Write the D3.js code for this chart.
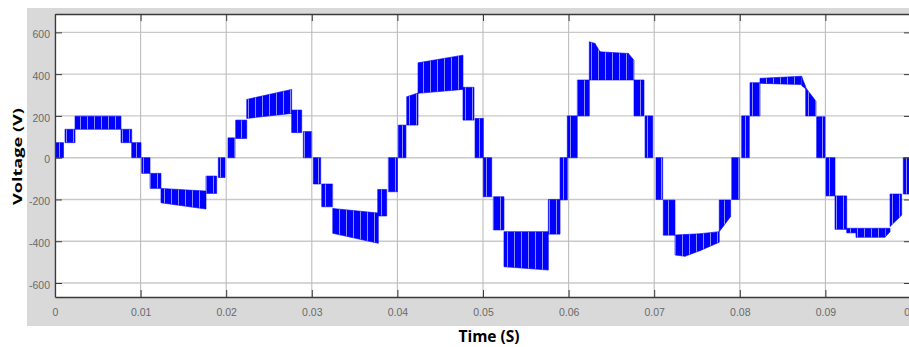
<!DOCTYPE html>
<html><head><meta charset="utf-8">
<script src="https://cdn.jsdelivr.net/npm/d3@7"></script>
<style>body{margin:0;background:#fff;overflow:hidden}</style>
</head><body>
<svg id="c" width="909" height="347"></svg>
<script>
// ---- data ----
const xTicks = [0, 0.01, 0.02, 0.03, 0.04, 0.05, 0.06, 0.07, 0.08, 0.09, 0.1];
const xTickLabels = ["0", "0.01", "0.02", "0.03", "0.04", "0.05", "0.06", "0.07", "0.08", "0.09", "0.1"];
const yTicks = [-600, -400, -200, 0, 200, 400, 600];
const yTickLabels = ["-600", "-400", "-200", "0", "200", "400", "600"];
const xLabel = "Time (S)";
const yLabel = "Voltage (V)";

// PWM bands of the multilevel output: start/end time (s), lower level (V) and upper level (V) at start/end
const bandStart = [0.00010,0.00117,0.00234,0.00771,0.00896,0.01013,0.01110,0.01238,0.01764,0.01908,
  0.02021,0.02111,0.02240,0.02765,0.02901,0.03018,0.03116,0.03244,0.03770,0.03894,
  0.04011,0.04109,0.04241,0.04766,0.04907,0.05004,0.05120,0.05245,0.05763,0.05900,
  0.05985,0.06102,0.06242,0.06308,0.06367,0.06698,0.06764,0.06893,0.07021,0.07106,
  0.07243,0.07360,0.07535,0.07760,0.07905,0.08022,0.08119,0.08236,0.08723,0.08770,
  0.08898,0.09007,0.09112,0.09249,0.09357,0.09696,0.09755,0.09910];
const bandEnd = [0.00100,0.00234,0.00771,0.00896,0.01005,0.01110,0.01238,0.01764,0.01889,0.01986,
  0.02103,0.02240,0.02765,0.02882,0.02999,0.03104,0.03244,0.03777,0.03875,0.04001,
  0.04100,0.04241,0.04766,0.04895,0.05004,0.05102,0.05245,0.05763,0.05900,0.05985,
  0.06102,0.06242,0.06308,0.06367,0.06698,0.06764,0.06881,0.06983,0.07099,0.07243,
  0.07360,0.07535,0.07760,0.07893,0.07994,0.08111,0.08236,0.08723,0.08770,0.08890,
  0.08995,0.09112,0.09249,0.09357,0.09696,0.09755,0.09891,0.10000];
const lowStart = [0,72,136,72,0,-75,-147,-216,-171,-95,
  0,92,188,120,0,-126,-235,-362,-279,-163,
  0,156,308,180,0,-187,-346,-522,-366,-202,
  0,200,372,372,372,372,200,0,-200,-371,
  -466,-472,-445,-354,-200,0,200,356,345,200,
  0,-183,-343,-360,-381,-381,-330,-174];
const lowEnd = [0,72,136,72,0,-75,-147,-246,-171,-95,
  0,92,212,120,0,-126,-235,-410,-279,-163,
  0,156,327,180,0,-187,-346,-538,-366,-202,
  0,200,372,372,372,372,200,0,-200,-371,
  -472,-445,-405,-282,-200,0,200,350,330,200,
  0,-183,-343,-360,-381,-355,-275,-174];
const highStart = [72,136,199,136,72,0,-75,-147,-88,0,
  95,180,279,228,125,0,-126,-243,-152,0,
  156,292,454,337,188,0,-187,-354,-200,0,
  200,372,555,547,507,499,372,200,0,-203,
  -370,-368,-364,-203,0,200,359,380,388,335,
  196,0,-183,-338,-338,-338,-174,0];
const highEnd = [72,136,199,136,72,0,-75,-160,-88,0,
  95,180,327,228,125,0,-126,-265,-152,0,
  156,310,491,337,188,0,-187,-354,-200,0,
  200,372,547,507,499,467,372,200,0,-203,
  -368,-364,-354,-203,0,200,359,390,340,270,
  196,0,-183,-338,-338,-338,-174,0];

// ---- drawing ----
const W = 909, H = 347;
const L = 55, R = 911, T = 14, B = 297;
const svg = d3.select("#c");
const x = d3.scaleLinear().domain([0, 0.1]).range([L, R]);
const y = d3.scaleLinear().domain([-667, 688]).range([B, T]);

// switching texture (style only)
const defs = svg.append("defs");
const pat = defs.append("pattern").attr("id", "pwm").attr("patternUnits", "userSpaceOnUse")
  .attr("width", 7).attr("height", 10);
pat.append("rect").attr("width", 7).attr("height", 10).attr("fill", "#0000ff");
pat.append("rect").attr("x", 3).attr("width", 1).attr("height", 10).attr("fill", "#8c8cff");

svg.append("rect").attr("x", 27).attr("y", 8).attr("width", W - 27).attr("height", 318).attr("fill", "#d9d9d9");
svg.append("rect").attr("x", L).attr("y", T).attr("width", R - L).attr("height", B - T).attr("fill", "#ffffff");

const g = svg.append("g");
// grid
g.selectAll("line.hg").data(yTicks).join("line").attr("class", "hg")
  .attr("x1", L).attr("x2", R).attr("y1", d => y(d)).attr("y2", d => y(d))
  .attr("stroke", "#c9c9c9").attr("stroke-width", 1.4);
g.selectAll("line.vg").data(xTicks).join("line").attr("class", "vg")
  .attr("y1", T).attr("y2", B).attr("x1", d => x(d)).attr("x2", d => x(d))
  .attr("stroke", "#bdbdbd").attr("stroke-width", 1.1);

// bands
const bands = bandStart.map((t0, i) => [
  { t: t0, lo: lowStart[i], hi: highStart[i] },
  { t: bandEnd[i], lo: lowEnd[i], hi: highEnd[i] }
]);
const area = d3.area().x(d => x(d.t)).y0(d => y(d.lo)).y1(d => y(d.hi));
g.selectAll("path.band").data(bands).join("path").attr("class", "band")
  .attr("d", area).attr("fill", "url(#pwm)").attr("stroke", "#0000ff").attr("stroke-width", 0.6);

// axes
const axCol = "#3a3a3a";
const fmtX = d => xTickLabels[xTicks.indexOf(d)];
const fmtY = d => yTickLabels[yTicks.indexOf(d)];
const axL = svg.append("g").attr("transform", `translate(${L},0)`)
  .call(d3.axisLeft(y).tickValues(yTicks).tickSizeInner(-7).tickSizeOuter(0).tickPadding(5).tickFormat(fmtY));
const axB = svg.append("g").attr("transform", `translate(0,${B})`)
  .call(d3.axisBottom(x).tickValues(xTicks).tickSizeInner(-7).tickSizeOuter(0).tickPadding(12).tickFormat(fmtX));
const axT = svg.append("g").attr("transform", `translate(0,${T})`)
  .call(d3.axisTop(x).tickValues(xTicks).tickSizeInner(-7).tickSizeOuter(0).tickFormat(""));
const axR = svg.append("g").attr("transform", `translate(${R},0)`)
  .call(d3.axisRight(y).tickValues(yTicks).tickSizeInner(-7).tickSizeOuter(0).tickFormat(""));
[axL, axB, axT, axR].forEach(a => {
  a.select(".domain").attr("stroke", axCol).attr("stroke-width", 1.3);
  a.selectAll(".tick line").attr("stroke", axCol).attr("stroke-width", 1);
  a.selectAll(".tick text").attr("fill", "#6a6a6a").attr("font-family", "Liberation Sans, Arial, sans-serif").attr("font-size", 10.5);
});
axL.selectAll(".tick text").attr("dy", "0.5em");

// axis titles
svg.append("text").attr("x", 489).attr("y", 342).attr("text-anchor", "middle")
  .attr("font-family", "Open Sans, sans-serif").attr("font-weight", "bold").attr("font-size", 15.5)
  .attr("fill", "#000").text(xLabel);
svg.append("text").attr("transform", "translate(22,156.5) rotate(-90)").attr("text-anchor", "middle")
  .attr("font-family", "Open Sans, sans-serif").attr("font-weight", "bold").attr("font-size", 12.5)
  .attr("textLength", 97).attr("lengthAdjust", "spacingAndGlyphs")
  .attr("fill", "#000").text(yLabel);
</script>
</body></html>
